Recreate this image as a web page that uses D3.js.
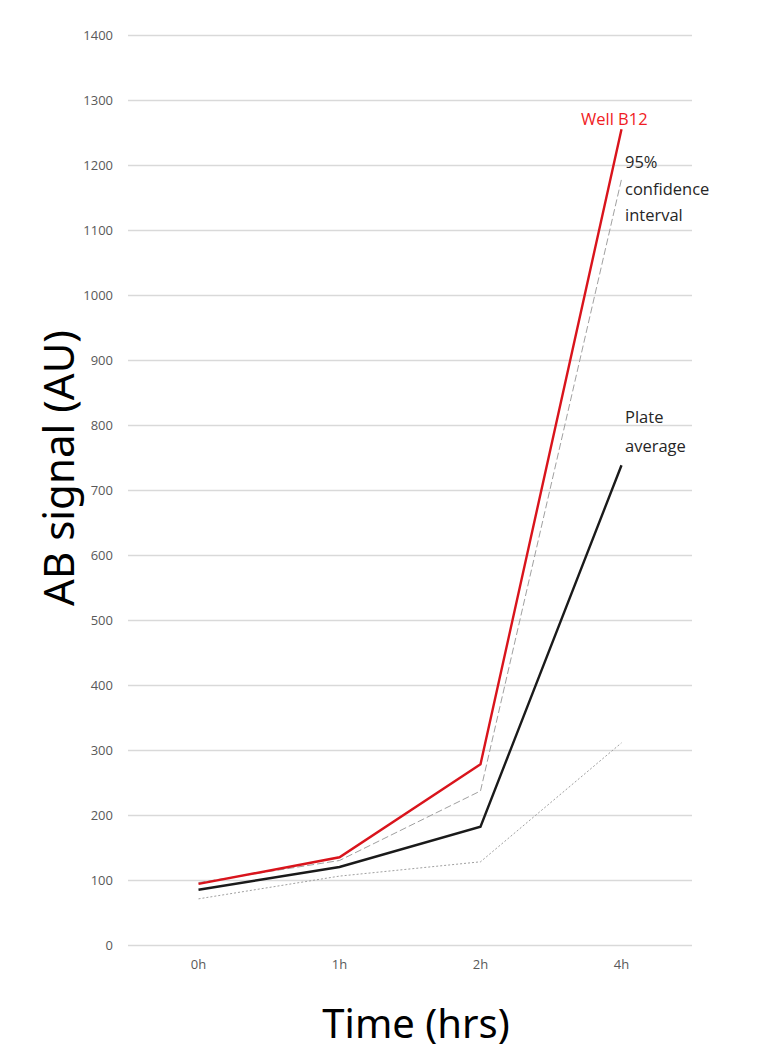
<!DOCTYPE html>
<html>
<head>
<meta charset="utf-8">
<script src="https://cdn.jsdelivr.net/npm/d3@7"></script>
<style>
  html, body { margin: 0; padding: 0; background: #fff; }
  svg { display: block; }
</style>
</head>
<body>
<svg id="chart" width="770" height="1052"></svg>
<script>
// Time points and series (AB signal, AU)
const timepoints = ["0h", "1h", "2h", "4h"];
const wellB12 = [94, 135, 278, 1255];
const plateAverage = [85, 120, 182, 738];
const ciUpper = [96, 130, 237, 1178];
const ciLower = [71, 106, 128, 311];
const yTicks = [0, 100, 200, 300, 400, 500, 600, 700, 800, 900, 1000, 1100, 1200, 1300, 1400];

const svg = d3.select("#chart");
const margin = { left: 128, right: 78, top: 35, bottom: 107 };
const W = 770, H = 1052;

const x = d3.scaleBand()
  .domain(timepoints)
  .range([margin.left, W - margin.right]);

const y = d3.scaleLinear()
  .domain([0, 1400])
  .range([H - margin.bottom, margin.top]);

const tickFont = "'Open Sans', 'DejaVu Sans', sans-serif";

// Horizontal gridlines + y tick labels
const yAxis = d3.axisLeft(y)
  .tickValues(yTicks)
  .tickFormat(d3.format("d"))
  .tickSize(-(W - margin.left - margin.right))
  .tickPadding(15);

const gy = svg.append("g")
  .attr("transform", `translate(${margin.left},0)`)
  .call(yAxis);
gy.select(".domain").remove();
gy.selectAll(".tick line").attr("stroke", "#d9d9d9").attr("stroke-width", 1.5);
gy.selectAll(".tick text")
  .attr("fill", "#595959")
  .style("font-family", tickFont)
  .style("font-size", "13px");

// X axis labels
const xAxis = d3.axisBottom(x).tickSize(0).tickPadding(15);
const gx = svg.append("g")
  .attr("transform", `translate(0,${y(0)})`)
  .call(xAxis);
gx.select(".domain").remove();
gx.selectAll(".tick text")
  .attr("fill", "#595959")
  .style("font-family", tickFont)
  .style("font-size", "13px");

const cx = d => x(d) + x.bandwidth() / 2;
const line = d3.line()
  .x((d, i) => cx(timepoints[i]))
  .y(d => y(d));

// Confidence interval bounds
svg.append("path")
  .datum(ciLower)
  .attr("d", line)
  .attr("fill", "none")
  .attr("stroke", "#a0a0a0")
  .attr("stroke-width", 1)
  .attr("stroke-dasharray", "2,2");

svg.append("path")
  .datum(ciUpper)
  .attr("d", line)
  .attr("fill", "none")
  .attr("stroke", "#a0a0a0")
  .attr("stroke-width", 1)
  .attr("stroke-dasharray", "7,3");

// Plate average
svg.append("path")
  .datum(plateAverage)
  .attr("d", line)
  .attr("fill", "none")
  .attr("stroke", "#1a1a1a")
  .attr("stroke-width", 2.4);

// Well B12
svg.append("path")
  .datum(wellB12)
  .attr("d", line)
  .attr("fill", "none")
  .attr("stroke", "#d9141c")
  .attr("stroke-width", 2.4);

// Series labels
const labelFont = "'Open Sans', 'DejaVu Sans', sans-serif";
svg.append("text")
  .attr("x", 581).attr("y", 125)
  .attr("fill", "#f01c24")
  .style("font-family", labelFont)
  .style("font-size", "16.5px")
  .text("Well B12");

const ciLabel = svg.append("text")
  .attr("fill", "#262626")
  .style("font-family", labelFont)
  .style("font-size", "16.5px");
["95%", "confidence", "interval"].forEach((t, i) => {
  ciLabel.append("tspan").attr("x", 625).attr("y", 168 + i * 26.5).text(t);
});

const avgLabel = svg.append("text")
  .attr("fill", "#262626")
  .style("font-family", labelFont)
  .style("font-size", "16.5px");
["Plate", "average"].forEach((t, i) => {
  avgLabel.append("tspan").attr("x", 625).attr("y", 423 + i * 29).text(t);
});

// Axis titles
const titleFont = "'Noto Sans', 'Open Sans', sans-serif";
svg.append("text")
  .attr("transform", `translate(74,468) rotate(-90)`)
  .attr("text-anchor", "middle")
  .attr("fill", "#000")
  .style("font-family", titleFont)
  .style("font-size", "42px")
  .text("AB signal (AU)");

svg.append("text")
  .attr("x", 416).attr("y", 1038)
  .attr("text-anchor", "middle")
  .attr("fill", "#000")
  .style("font-family", titleFont)
  .style("font-size", "40px")
  .text("Time (hrs)");
</script>
</body>
</html>
